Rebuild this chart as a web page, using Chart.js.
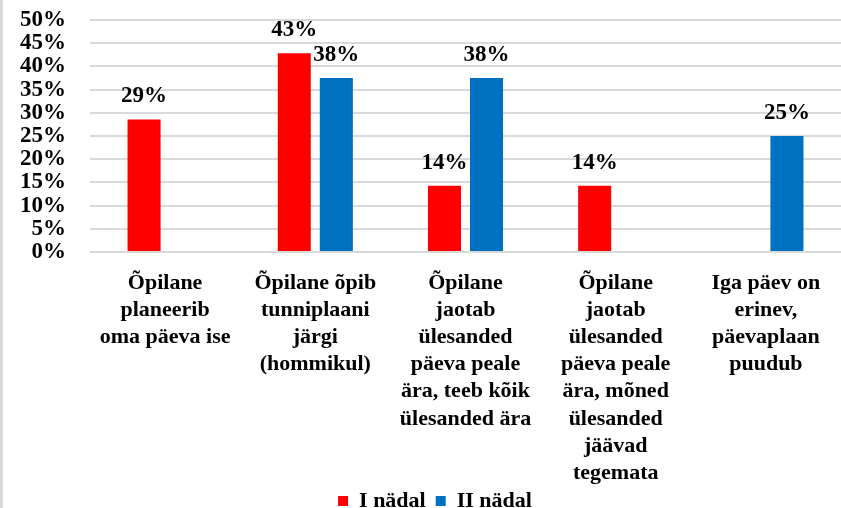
<!DOCTYPE html>
<html>
<head>
<meta charset="utf-8">
<script src="https://cdn.jsdelivr.net/npm/chart.js@4/dist/chart.umd.min.js"></script>
<style>
  html, body { margin: 0; padding: 0; background: #fff; }
  #wrap { position: relative; width: 841px; height: 508px; }
  #edge { position: absolute; left: 0; top: 0; width: 3px; height: 508px; background: #d9d9d9; }
</style>
</head>
<body>
<div id="wrap">
  <canvas id="chart" width="841" height="508"></canvas>
  <div id="edge"></div>
</div>
<script>
const categories = [
  ['Õpilane', 'planeerib', 'oma päeva ise'],
  ['Õpilane õpib', 'tunniplaani', 'järgi', '(hommikul)'],
  ['Õpilane', 'jaotab', 'ülesanded', 'päeva peale', 'ära, teeb kõik', 'ülesanded ära'],
  ['Õpilane', 'jaotab', 'ülesanded', 'päeva peale', 'ära, mõned', 'ülesanded', 'jäävad', 'tegemata'],
  ['Iga päev on', 'erinev,', 'päevaplaan', 'puudub']
];
const week1 = [28.57, 42.86, 14.29, 14.29, null];
const week2 = [null, 37.5, 37.5, null, 25];
const seriesNames = ['I nädal', 'II nädal'];
const yTicks = [0, 5, 10, 15, 20, 25, 30, 35, 40, 45, 50];

const FONT = '"Liberation Serif", "Times New Roman", serif';

// value labels above the bars
const barLabels = {
  id: 'barLabels',
  afterDatasetsDraw(chart) {
    const ctx = chart.ctx;
    ctx.save();
    ctx.font = 'bold 23px ' + FONT;
    ctx.fillStyle = '#000';
    ctx.textAlign = 'center';
    ctx.textBaseline = 'middle';
    chart.data.datasets.forEach((ds, i) => {
      chart.getDatasetMeta(i).data.forEach((bar, j) => {
        const v = ds.data[j];
        if (v == null) return;
        ctx.fillText(Math.round(v) + '%', bar.x, bar.y - 23);
      });
    });
    ctx.restore();
  }
};

// let the long category labels run under the legend (no clipping),
// and move the legend to where the original one sits
const layoutNudge = {
  id: 'layoutNudge',
  beforeDraw(chart) {
    chart.scales.x.bottom = chart.height;
    const lg = chart.legend;
    if (!lg || lg._nudged) return;
    lg.left += 29;
    lg.top += 14;
    lg.bottom += 14;
    lg._nudged = true;
  }
};

new Chart(document.getElementById('chart'), {
  type: 'bar',
  data: {
    labels: categories,
    datasets: [
      { label: seriesNames[0], data: week1, backgroundColor: '#ff0000' },
      { label: seriesNames[1], data: week2, backgroundColor: '#0070c0' }
    ]
  },
  options: {
    responsive: false,
    devicePixelRatio: 1,
    animation: false,
    categoryPercentage: 0.56,
    barPercentage: 0.786,
    layout: { padding: { top: 20, left: 0, right: 0, bottom: 0 } },
    scales: {
      x: {
        grid: { display: false },
        border: { display: false },
        ticks: {
          autoSkip: false,
          maxRotation: 0,
          padding: 10,
          color: '#000',
          font: { family: FONT, size: 22, weight: 'bold', lineHeight: 1.23 }
        },
        afterFit(scale) { scale.height = 214; }
      },
      y: {
        min: 0,
        max: 50,
        afterBuildTicks(scale) { scale.ticks = yTicks.map(v => ({ value: v })); },
        grid: { color: '#d9d9d9', lineWidth: 2, drawTicks: false },
        border: { display: false },
        ticks: {
          autoSkip: false,
          padding: 24,
          color: '#000',
          font: { family: FONT, size: 23, weight: 'bold' },
          callback: v => v + '%'
        },
        afterFit(scale) {
          scale.width = 90;
          scale.paddingTop = 0;
          scale.paddingBottom = 0;
        }
      }
    },
    plugins: {
      legend: {
        position: 'bottom',
        labels: {
          boxWidth: 10,
          boxHeight: 10,
          padding: 10,
          color: '#000',
          font: { family: FONT, size: 22, weight: 'bold' }
        }
      },
      tooltip: { enabled: false }
    }
  },
  plugins: [barLabels, layoutNudge]
});
</script>
</body>
</html>
